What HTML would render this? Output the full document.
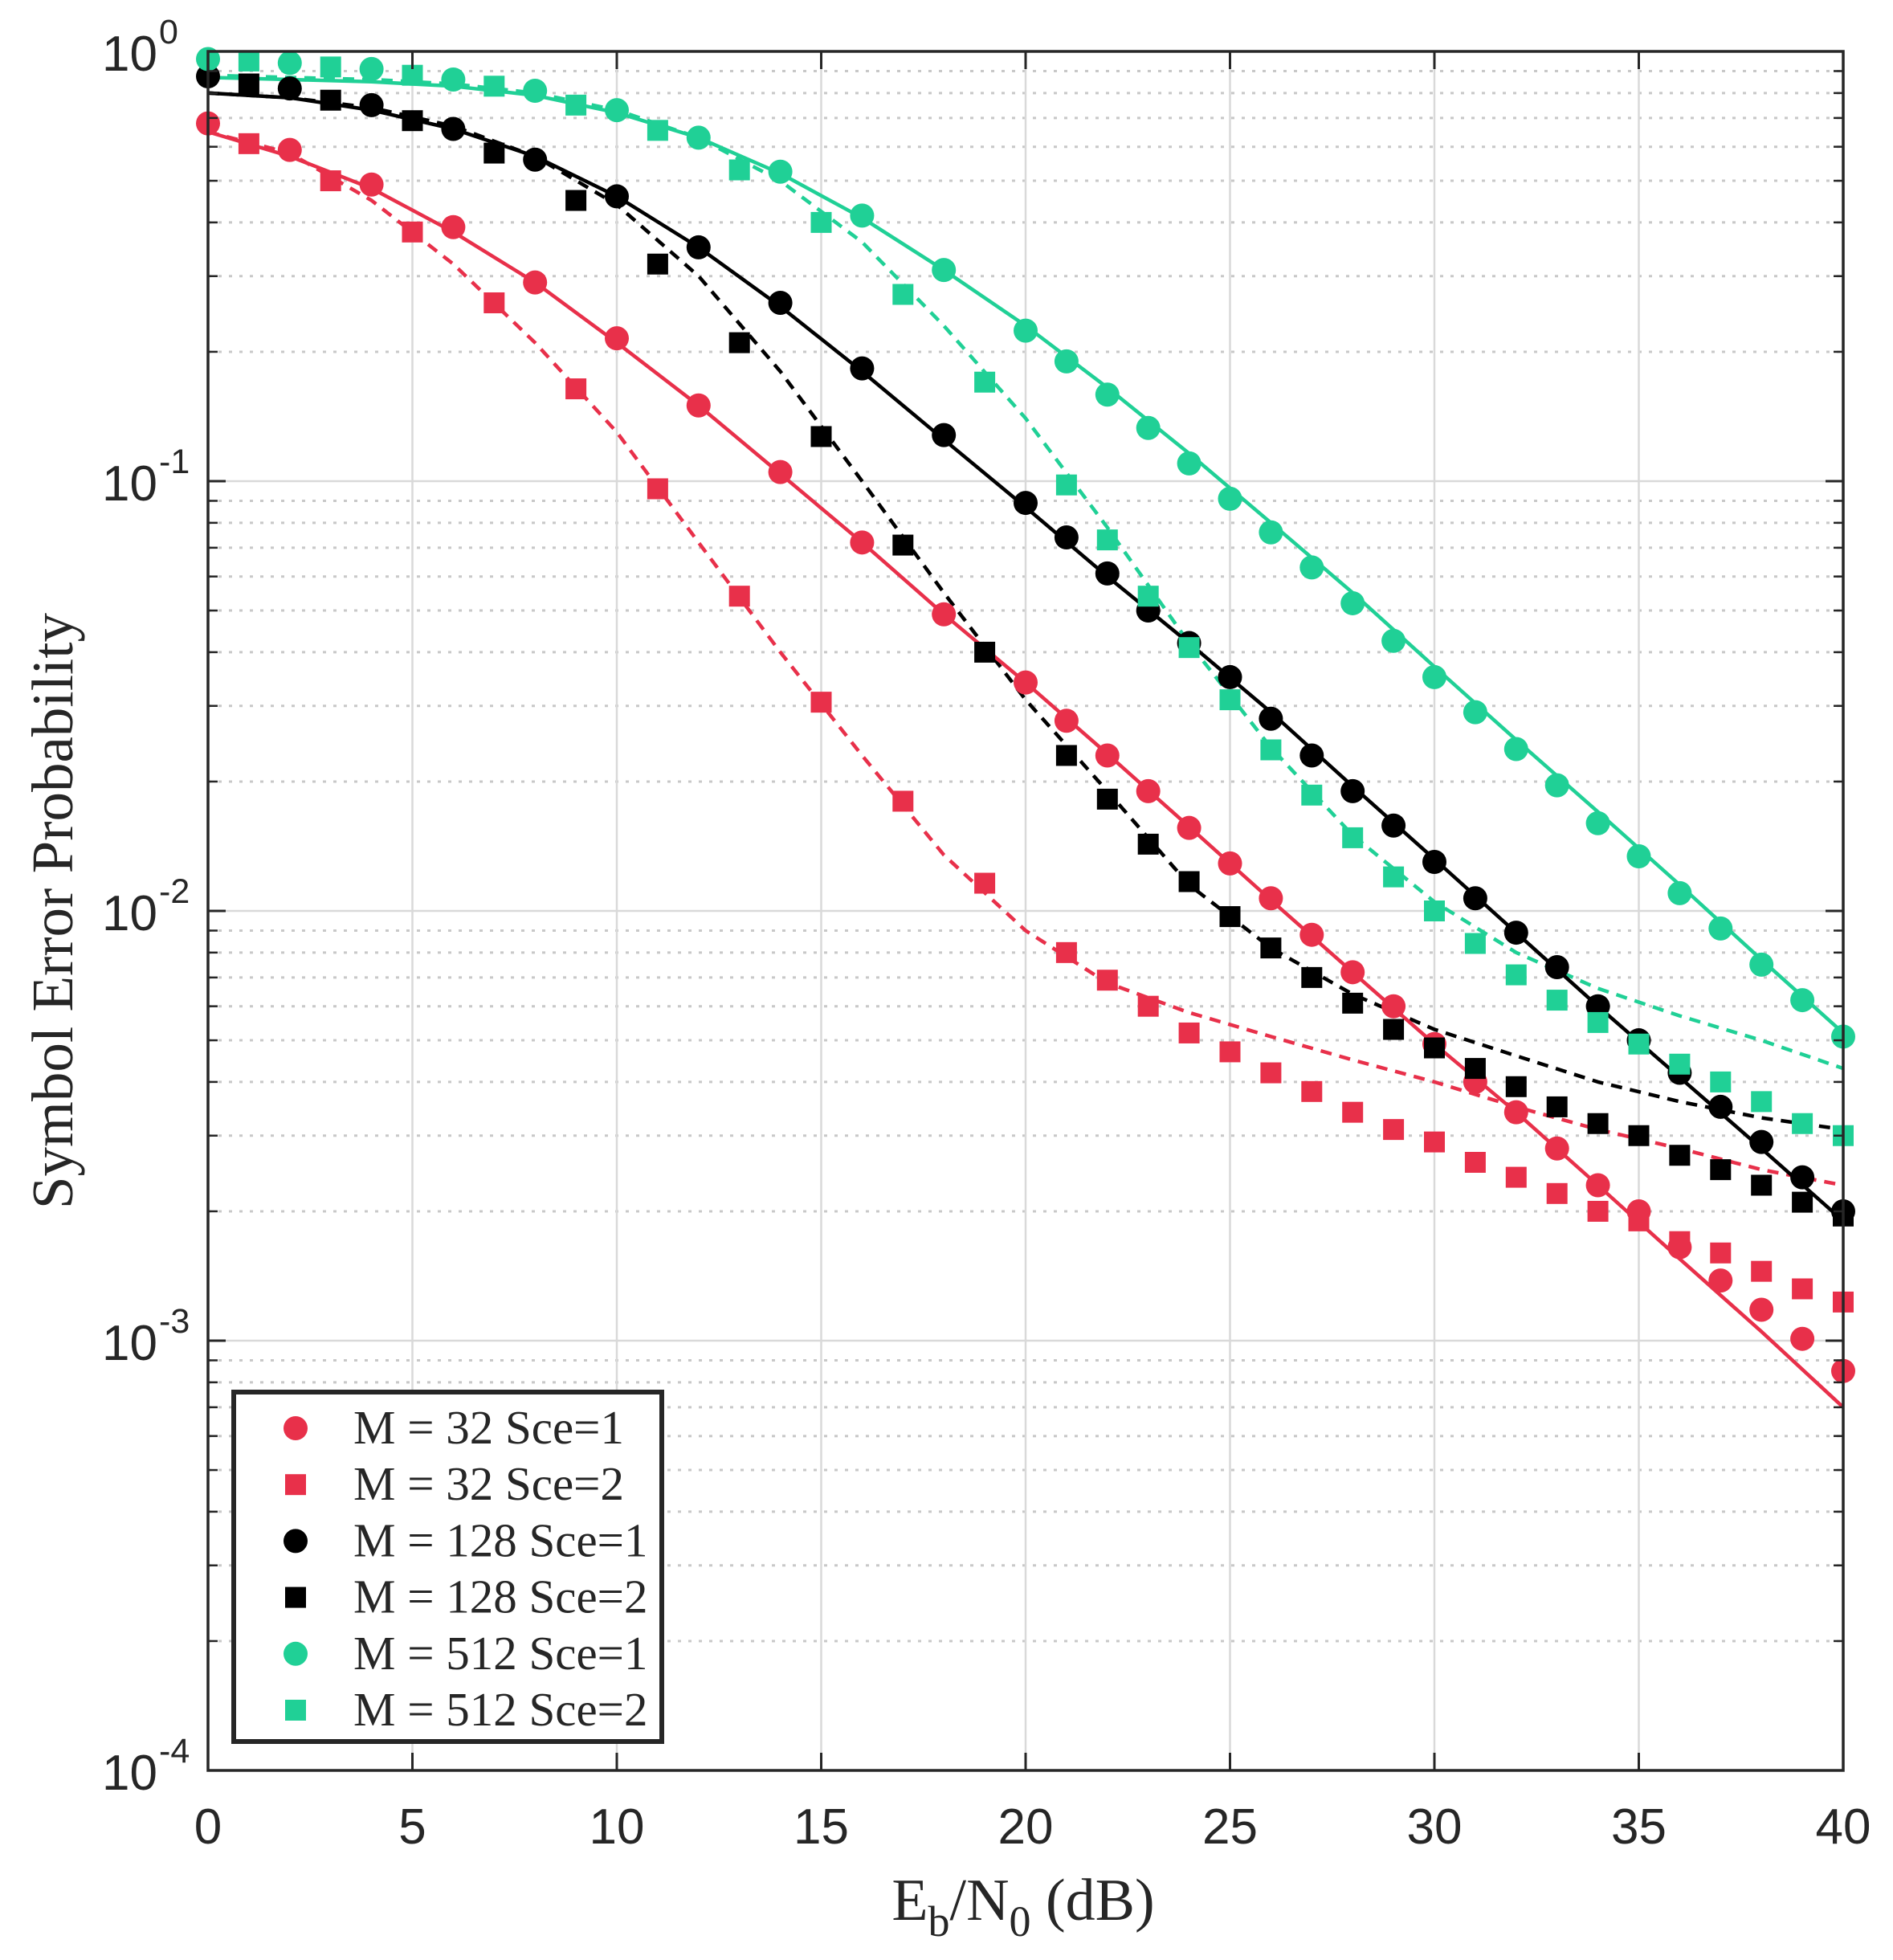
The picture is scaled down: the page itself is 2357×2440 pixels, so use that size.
<!DOCTYPE html>
<html><head><meta charset="utf-8">
<style>
html,body{margin:0;padding:0;background:#fff;}
svg{display:block;}
</style></head>
<body>
<svg id="chart" width="2357" height="2440" xmlns="http://www.w3.org/2000/svg">
<rect width="2357" height="2440" fill="#fff"/>
<g id="grid"></g>
<g id="series"></g>
<g id="axes"></g>
<g id="legend"></g>
</svg>
<script>
const thX = [0,2,4,6,8,10,12,14,16,18,20,22,24,26,28,30,32,34,36,38,40];
const circX = [0,2,4,6,8,10,12,14,16,18,20,21,22,23,24,25,26,27,28,29,30,31,32,33,34,35,36,37,38,39,40];
const sqX = [1,3,5,7,9,11,13,15,17,19,21,22,23,24,25,26,27,28,29,30,31,32,33,34,35,36,37,38,39,40];

const red1Pts = [0.68,0.59,0.49,0.39,0.29,0.215,0.15,0.105,0.072,0.049,0.034,0.0277,0.023,0.019,0.0156,0.0129,0.0107,0.0088,0.0072,0.006,0.0049,0.004,0.0034,0.0028,0.0023,0.002,0.00165,0.00138,0.00118,0.00101,0.00085];
const red2Pts = [0.61,0.5,0.38,0.26,0.164,0.096,0.054,0.0306,0.018,0.0116,0.008,0.0069,0.006,0.0052,0.0047,0.0042,0.0038,0.0034,0.0031,0.0029,0.0026,0.0024,0.0022,0.002,0.0019,0.0017,0.0016,0.00145,0.00132,0.00123];
const blk1Pts = [0.875,0.82,0.75,0.66,0.56,0.46,0.35,0.26,0.183,0.128,0.089,0.074,0.061,0.05,0.042,0.035,0.028,0.023,0.019,0.0158,0.013,0.0107,0.0089,0.0074,0.006,0.005,0.0042,0.0035,0.0029,0.0024,0.002];
const blk2Pts = [0.84,0.77,0.69,0.58,0.45,0.32,0.21,0.127,0.071,0.04,0.023,0.0182,0.0143,0.0117,0.0097,0.0082,0.007,0.0061,0.0053,0.0048,0.0043,0.0039,0.0035,0.0032,0.003,0.0027,0.0025,0.0023,0.0021,0.00195];
const grn1Pts = [0.96,0.94,0.91,0.86,0.81,0.73,0.63,0.525,0.415,0.31,0.224,0.19,0.159,0.133,0.11,0.091,0.076,0.063,0.052,0.0425,0.035,0.029,0.0238,0.0196,0.016,0.0134,0.011,0.0091,0.0075,0.0062,0.0051];
const grn2Pts = [0.95,0.92,0.88,0.83,0.75,0.655,0.53,0.4,0.272,0.17,0.098,0.073,0.054,0.041,0.031,0.0237,0.0186,0.0148,0.012,0.01,0.0084,0.0071,0.0062,0.0055,0.0049,0.0044,0.004,0.0036,0.0032,0.003];

const red1Th = [0.65,0.57,0.48,0.38,0.29,0.21,0.15,0.104,0.072,0.049,0.034,0.0232,0.0157,0.0106,0.0072,0.0049,0.0034,0.0023,0.00155,0.00105,0.0007];
const red2Th = [0.65,0.58,0.45,0.32,0.21,0.13,0.072,0.04,0.023,0.0135,0.009,0.0068,0.0058,0.0051,0.0045,0.004,0.0035,0.0031,0.0028,0.0025,0.0023];
const blk1Th = [0.8,0.78,0.73,0.66,0.57,0.46,0.35,0.255,0.18,0.125,0.087,0.06,0.042,0.029,0.0195,0.0132,0.0089,0.006,0.0041,0.0028,0.0019];
const blk2Th = [0.8,0.78,0.74,0.67,0.57,0.44,0.3,0.18,0.1,0.055,0.031,0.019,0.0115,0.0082,0.0064,0.0053,0.0046,0.004,0.0036,0.0033,0.0031];
const grn1Th = [0.87,0.86,0.85,0.83,0.79,0.72,0.63,0.52,0.41,0.31,0.23,0.165,0.116,0.08,0.055,0.037,0.025,0.017,0.0115,0.0077,0.0052];
const grn2Th = [0.88,0.87,0.86,0.84,0.8,0.73,0.63,0.5,0.36,0.23,0.14,0.078,0.042,0.024,0.015,0.0105,0.008,0.0066,0.0057,0.005,0.0043];

const xTicks = [0,5,10,15,20,25,30,35,40];
const yExps = [0,-1,-2,-3,-4];
const legendLabels = ["M = 32 Sce=1","M = 32 Sce=2","M = 128 Sce=1","M = 128 Sce=2","M = 512 Sce=1","M = 512 Sce=2"];

const L=259,R=2295,T=64,B=2204;
const RED="#E8304A",BLK="#000000",GRN="#20D096";
const NS="http://www.w3.org/2000/svg";
function X(v){return L+(v-0)/(40-0)*(R-L);}
function Y(v){return T+(0-Math.log10(v))/4*(B-T);}
function el(tag,attrs,parent){const e=document.createElementNS(NS,tag);for(const k in attrs)e.setAttribute(k,attrs[k]);parent.appendChild(e);return e;}

const grid=document.getElementById('grid');
const axes=document.getElementById('axes');
const series=document.getElementById('series');
const legend=document.getElementById('legend');

for(let d=0;d<4;d++){for(let m=2;m<=9;m++){
  const v=Math.pow(10,-d-1)*m;const y=Y(v);
  const g=el('line',{x1:L,x2:R,y1:y,y2:y,stroke:'#c8c8c8','stroke-width':3,'stroke-dasharray':'4 9'},grid);
  
  
  const t1=el('line',{x1:L,x2:L+12,y1:y,y2:y,stroke:'#262626','stroke-width':2.5},axes);
  
  
  const t2=el('line',{x1:R-12,x2:R,y1:y,y2:y,stroke:'#262626','stroke-width':2.5},axes);
  
  
}}
yExps.forEach(e=>{
  const y=Y(Math.pow(10,e));
  const g=el('line',{x1:L,x2:R,y1:y,y2:y,stroke:'#d9d9d9','stroke-width':2.5},grid);
  
  
  const t1=el('line',{x1:L,x2:L+22,y1:y,y2:y,stroke:'#262626','stroke-width':3},axes);
  
  
  const t2=el('line',{x1:R-22,x2:R,y1:y,y2:y,stroke:'#262626','stroke-width':3},axes);
  
  
  const tx=el('text',{x:196,y:y+24,'text-anchor':'end','font-family':'Liberation Sans, sans-serif','font-size':62,fill:'#262626'},axes);
  
  
  tx.textContent='10';
  const sup=el('text',{x:198,y:y-10,'text-anchor':'start','font-family':'Liberation Sans, sans-serif','font-size':43,fill:'#262626'},axes);
  
  
  sup.textContent=String(e);
});
xTicks.forEach(v=>{
  const x=X(v);
  const g=el('line',{x1:x,x2:x,y1:T,y2:B,stroke:'#d9d9d9','stroke-width':2.5},grid);
  
  
  const t1=el('line',{x1:x,x2:x,y1:B-22,y2:B,stroke:'#262626','stroke-width':3},axes);
  
  
  const t2=el('line',{x1:x,x2:x,y1:T,y2:T+22,stroke:'#262626','stroke-width':3},axes);
  
  
  const tx=el('text',{x:x,y:2295,'text-anchor':'middle','font-family':'Liberation Sans, sans-serif','font-size':62,fill:'#262626'},axes);
  
  
  tx.textContent=String(v);
});
const frame=el('rect',{x:L,y:T,width:R-L,height:B-T,fill:'none',stroke:'#262626','stroke-width':3.5},axes);



const xl=el('text',{x:1274,y:2390,'text-anchor':'middle','font-family':'Liberation Serif, serif','font-size':74,fill:'#262626'},axes);


xl.innerHTML='E<tspan dy="20" font-size="54">b</tspan><tspan dy="-20">/N</tspan><tspan dy="20" font-size="54">0</tspan><tspan dy="-20"> (dB)</tspan>';
const yl=el('text',{x:0,y:0,'text-anchor':'middle','font-family':'Liberation Serif, serif','font-size':73,fill:'#262626',transform:'translate(90,1134) rotate(-90)'},axes);


yl.textContent='Symbol Error Probability';

function line(xv,yv,color,dashed,name){
  const d=xv.map((x,i)=>(i?'L':'M')+X(x).toFixed(1)+','+Y(yv[i]).toFixed(1)).join(' ');
  const p=el('path',{d:d,fill:'none',stroke:color,'stroke-width':4.5,'stroke-linejoin':'round'},series);
  if(dashed)p.setAttribute('stroke-dasharray','14 10');
  
  
}
function markers(xv,yv,color,shape,name){
  xv.forEach((x,i)=>{
    let m;
    if(shape==='c') m=el('circle',{cx:X(x),cy:Y(yv[i]),r:15,fill:color},series);
    else m=el('rect',{x:X(x)-13,y:Y(yv[i])-13,width:26,height:26,fill:color},series);
    
    
  });
}
line(thX,red2Th,RED,true,'m32-sce2-theory');
line(thX,blk2Th,BLK,true,'m128-sce2-theory');
line(thX,grn2Th,GRN,true,'m512-sce2-theory');
line(thX,red1Th,RED,false,'m32-sce1-theory');
line(thX,blk1Th,BLK,false,'m128-sce1-theory');
line(thX,grn1Th,GRN,false,'m512-sce1-theory');
markers(circX,red1Pts,RED,'c','m32-sce1-point');
markers(sqX,red2Pts,RED,'s','m32-sce2-point');
markers(circX,blk1Pts,BLK,'c','m128-sce1-point');
markers(sqX,blk2Pts,BLK,'s','m128-sce2-point');
markers(circX,grn1Pts,GRN,'c','m512-sce1-point');
markers(sqX,grn2Pts,GRN,'s','m512-sce2-point');

const lb=el('rect',{x:291,y:1733,width:533,height:435,fill:'#fff',stroke:'#262626','stroke-width':6},legend);


const lcol=[RED,RED,BLK,BLK,GRN,GRN];
legendLabels.forEach((t,i)=>{
  const y=1778+i*70.2;
  let m;
  if(i%2===0) m=el('circle',{cx:368,cy:y,r:15,fill:lcol[i]},legend);
  else m=el('rect',{x:355,y:y-13,width:26,height:26,fill:lcol[i]},legend);
  
  
  const tx=el('text',{x:440,y:y+19,'font-family':'Liberation Serif, serif','font-size':59,fill:'#262626'},legend);
  
  
  tx.textContent=t;
});
</script>
</body></html>
